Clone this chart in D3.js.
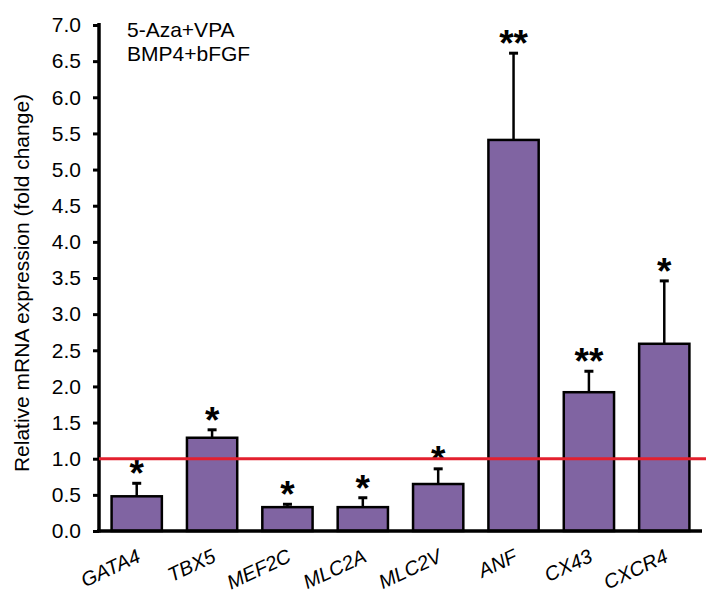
<html>
<script src='https://d3js.org/d3.v7.min.js'></script>
<style>
  body { margin: 0; background: white; }
  text { font-family: Arial, "Liberation Sans", sans-serif; }
  .bar { fill: #8064a2; stroke: black; stroke-width: 2.5; }
</style>
<body>
<svg width=708 height=610></svg>
<script>
const genes = ["GATA4", "TBX5", "MEF2C", "MLC2A", "MLC2V", "ANF", "CX43", "CXCR4"];
const means = [0.48, 1.29, 0.33, 0.33, 0.65, 5.41, 1.92, 2.59];
const errTop = [0.66, 1.40, 0.37, 0.46, 0.86, 6.61, 2.21, 3.46];
const stars = ["*", "*", "*", "*", "*", "**", "**", "*"];
const yTicks = [0, 0.5, 1, 1.5, 2, 2.5, 3, 3.5, 4, 4.5, 5, 5.5, 6, 6.5, 7];
const conditions = ["5-Aza+VPA", "BMP4+bFGF"];

const svg = d3.select("svg");
const plotLeft = 99, plotRight = 702, plotTop = 25, plotBottom = 531;

const xs = d3.scaleBand().domain(genes).range([plotLeft, plotRight]).paddingInner(0.333).paddingOuter(0.167);
const ys = d3.scaleLinear().domain([0, 7]).range([plotBottom, plotTop]);

// Y axis
const yAxis = svg.append("g")
  .attr("transform", "translate(" + plotLeft + ",0)")
  .call(d3.axisLeft(ys).tickValues(yTicks).tickFormat(d3.format(".1f")).tickSize(6).tickPadding(12));
yAxis.select(".domain").remove();
yAxis.selectAll(".tick line").attr("stroke", "black").attr("stroke-width", 3);
yAxis.selectAll(".tick text").attr("font-size", 21).attr("fill", "black")
  .attr("font-family", "Arial, 'Liberation Sans', sans-serif");

svg.append("text")
  .attr("transform", "translate(29," + ((plotTop + plotBottom) / 2 + 5) + ") rotate(-90)")
  .attr("text-anchor", "middle")
  .attr("font-size", 21)
  .text("Relative mRNA expression (fold change)");

// condition labels
svg.selectAll(".cond").data(conditions).enter().append("text")
  .attr("class", "cond")
  .attr("x", 127)
  .attr("y", (d, i) => 37 + i * 23.5)
  .attr("font-size", 21)
  .text(d => d);

// bars
svg.selectAll(".bar").data(genes).enter().append("rect")
  .attr("class", "bar")
  .attr("x", d => xs(d))
  .attr("width", xs.bandwidth())
  .attr("y", (d, i) => ys(means[i]))
  .attr("height", (d, i) => ys(0) - ys(means[i]));

// error bars
const eb = svg.append("g").attr("stroke", "black");
genes.forEach((g, i) => {
  const cx = xs(g) + xs.bandwidth() / 2;
  eb.append("line").attr("x1", cx).attr("x2", cx)
    .attr("y1", ys(means[i])).attr("y2", ys(errTop[i])).attr("stroke-width", 2.5);
  eb.append("line").attr("x1", cx - 4.5).attr("x2", cx + 4.5)
    .attr("y1", ys(errTop[i])).attr("y2", ys(errTop[i])).attr("stroke-width", 3);
});

// significance stars
svg.selectAll(".star").data(genes).enter().append("text")
  .attr("class", "star")
  .attr("x", d => xs(d) + xs.bandwidth() / 2)
  .attr("y", (d, i) => ys(errTop[i]) + 3)
  .attr("text-anchor", "middle")
  .attr("font-size", 37)
  .attr("font-weight", "bold")
  .text((d, i) => stars[i]);

// axis lines
svg.append("line").attr("x1", plotLeft).attr("x2", plotLeft).attr("y1", plotTop - 2).attr("y2", plotBottom + 1.5)
  .attr("stroke", "black").attr("stroke-width", 3.5);
svg.append("line").attr("x1", plotLeft - 2).attr("x2", plotRight).attr("y1", plotBottom).attr("y2", plotBottom)
  .attr("stroke", "black").attr("stroke-width", 3.5);

// reference line at 1.0
svg.append("line").attr("x1", plotLeft).attr("x2", 706).attr("y1", ys(1)).attr("y2", ys(1))
  .attr("stroke", "#e3202e").attr("stroke-width", 3);

// x labels
svg.selectAll(".xl").data(genes).enter().append("text")
  .attr("class", "xl")
  .attr("transform", d => "translate(" + (xs(d) + xs.bandwidth() / 2 + 5) + ",561) rotate(-25)")
  .attr("text-anchor", "end")
  .attr("font-size", 20)
  .attr("font-style", "italic")
  .text(d => d);
</script>
</body>
</html>
